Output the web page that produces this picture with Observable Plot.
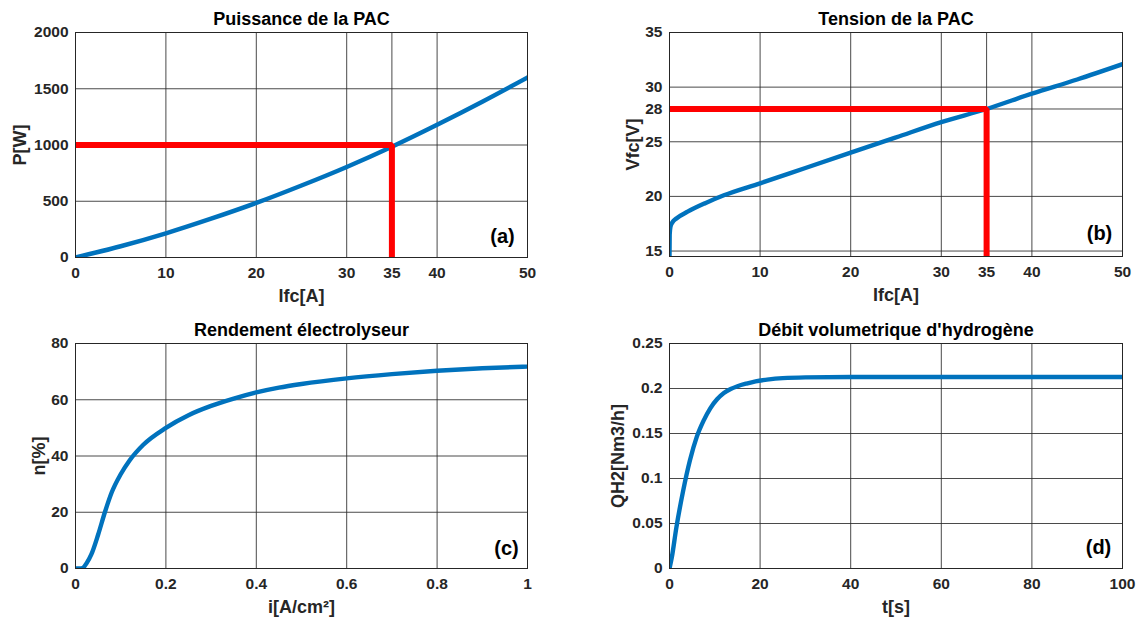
<!DOCTYPE html>
<html><head><meta charset="utf-8">
<script src="https://cdn.jsdelivr.net/npm/d3@7"></script>
<script src="https://cdn.jsdelivr.net/npm/@observablehq/plot@0.6"></script>
<style>
html,body{margin:0;padding:0;background:#fff}
#root{position:relative;width:1142px;height:621px;overflow:hidden}
#root svg{position:absolute}
</style></head><body><div id="root"></div>
<script>
// ---- Panel (a): Puissance de la PAC ----
const ifcA = [0, 5, 10, 15, 20, 25, 30, 35, 40, 45, 50];
const powerA = [0, 100, 215, 345, 485, 640, 805, 985, 1180, 1385, 1600];
const xTicksA = [0, 10, 20, 30, 35, 40, 50];
const yTicksA = [0, 500, 1000, 1500, 2000];
const refA = {x: 35, y: 1000};

// ---- Panel (b): Tension de la PAC ----
const ifcB = [0, 0.02, 0.1, 0.3, 0.8, 2, 4, 6, 10, 15, 20, 25, 30, 35, 40, 45, 50];
const voltB = [14.5, 16.5, 17.2, 17.6, 18.0, 18.6, 19.4, 20.1, 21.2, 22.6, 24.0, 25.4, 26.8, 28.0, 29.4, 30.7, 32.1];
const xTicksB = [0, 10, 20, 30, 35, 40, 50];
const yTicksB = [15, 20, 25, 28, 30, 35];
const refB = {x: 35, y: 28};

// ---- Panel (c): Rendement électrolyseur ----
const currC = [0, 0.01, 0.017, 0.025, 0.035, 0.05, 0.065, 0.08, 0.1, 0.12, 0.15, 0.2, 0.25, 0.3, 0.35, 0.4, 0.45, 0.5, 0.6, 0.7, 0.8, 0.9, 1.0];
const effC = [0, 0, 0.3, 2, 5, 12, 20, 27, 33.5, 38.5, 44, 50, 54.5, 57.8, 60.4, 62.6, 64.3, 65.6, 67.6, 69.1, 70.3, 71.2, 71.8];
const xTicksC = [0, 0.2, 0.4, 0.6, 0.8, 1];
const yTicksC = [0, 20, 40, 60, 80];

// ---- Panel (d): Débit volumetrique d'hydrogène ----
const timeD = [0, 0.5, 1.5, 3, 4.5, 6, 7.5, 9, 10.5, 12, 13.5, 15, 17, 19, 22, 25, 30, 40, 60, 80, 100];
const flowD = [0, 0.012, 0.045, 0.086, 0.12, 0.146, 0.164, 0.178, 0.188, 0.195, 0.1995, 0.2025, 0.2055, 0.208, 0.2102, 0.2115, 0.2124, 0.2128, 0.2128, 0.2128, 0.2128];
const xTicksD = [0, 20, 40, 60, 80, 100];
const yTicksD = [0, 0.05, 0.1, 0.15, 0.2, 0.25];

const BLUE = "#0072BD", RED = "#FF0000", INK = "#262626";
const FONT = "'Liberation Sans', Arial, Helvetica, sans-serif";

function panel(o) {
  const data = o.xs.map((x, i) => ({x, y: o.ys[i]}));
  const marks = [
    Plot.gridX({ticks: o.xTicks, stroke: "#2a2a2a", strokeOpacity: 0.85, strokeWidth: 1}),
    Plot.gridY({ticks: o.yTicks, stroke: "#2a2a2a", strokeOpacity: 0.85, strokeWidth: 1}),
    Plot.line(data, {x: "x", y: "y", stroke: BLUE, strokeWidth: 4.4, curve: "monotone-x", clip: true}),
  ];
  if (o.ref) {
    const r = [
      {x: o.xDomain[0], y: o.ref.y},
      {x: o.ref.x, y: o.ref.y},
      {x: o.ref.x, y: o.yDomain[0]}
    ];
    marks.push(Plot.line(r, {x: "x", y: "y", stroke: RED, strokeWidth: 6, strokeLinejoin: "miter", strokeLinecap: "butt", clip: true}));
  }
  marks.push(
    Plot.frame({stroke: INK, strokeWidth: 1}),
    Plot.axisX({ticks: o.xTicks, tickSize: 0, tickPadding: 9, tickFormat: d => String(d), label: null, fontSize: 15.5, fill: INK}),
    Plot.axisY({ticks: o.yTicks, tickSize: 0, tickPadding: 7, tickFormat: d => String(d), label: null, fontSize: 15.5, fill: INK}),
    Plot.text([o.title], {frameAnchor: "top", dy: -13, textAnchor: "middle", lineAnchor: "middle", fontSize: 18, fontWeight: "bold", fill: "#000"}),
    Plot.text([o.xLabel], {frameAnchor: "bottom", dy: 39, textAnchor: "middle", lineAnchor: "middle", fontSize: 18, fontWeight: "bold", fill: INK}),
    Plot.text([o.yLabel], {frameAnchor: "left", dx: -o.yLabelOff, rotate: -90, textAnchor: "middle", lineAnchor: "middle", fontSize: 18, fontWeight: "bold", fill: INK}),
    Plot.text([o.tag], {frameAnchor: "bottom-right", dx: o.tagDx, dy: o.tagDy, textAnchor: "middle", lineAnchor: "middle", fontSize: 20, fontWeight: "bold", fill: "#000"})
  );
  const svg = Plot.plot({
    width: o.w, height: o.h,
    marginLeft: o.ml, marginRight: o.mr, marginTop: o.mt, marginBottom: o.mb,
    x: {domain: o.xDomain},
    y: {domain: o.yDomain},
    style: {fontFamily: FONT, fontWeight: "bold", fontSize: "15px", background: "transparent", overflow: "visible"},
    marks
  });
  svg.style.left = o.left + "px";
  svg.style.top = o.top + "px";
  document.getElementById("root").appendChild(svg);
}

panel({left: 0, top: 0, w: 560, h: 310, ml: 75, mr: 33, mt: 32, mb: 53,
  xs: ifcA, ys: powerA, xDomain: [0, 50], yDomain: [0, 2000], xTicks: xTicksA, yTicks: yTicksA, ref: refA,
  title: "Puissance de la PAC", xLabel: "Ifc[A]", yLabel: "P[W]", yLabelOff: 55, tag: "(a)", tagDx: -25, tagDy: -21});

panel({left: 580, top: 0, w: 562, h: 310, ml: 89, mr: 20, mt: 32, mb: 54,
  xs: ifcB, ys: voltB, xDomain: [0, 50], yDomain: [14.5, 35], xTicks: xTicksB, yTicks: yTicksB, ref: refB,
  title: "Tension de la PAC", xLabel: "Ifc[A]", yLabel: "Vfc[V]", yLabelOff: 36, tag: "(b)", tagDx: -23, tagDy: -23});

panel({left: 0, top: 310, w: 560, h: 311, ml: 75, mr: 33, mt: 33, mb: 53,
  xs: currC, ys: effC, xDomain: [0, 1], yDomain: [0, 80], xTicks: xTicksC, yTicks: yTicksC,
  title: "Rendement électrolyseur", xLabel: "i[A/cm²]", yLabel: "n[%]", yLabelOff: 36, tag: "(c)", tagDx: -21, tagDy: -20});

panel({left: 580, top: 310, w: 562, h: 311, ml: 89, mr: 20, mt: 33, mb: 53,
  xs: timeD, ys: flowD, xDomain: [0, 100], yDomain: [0, 0.25], xTicks: xTicksD, yTicks: yTicksD,
  title: "Débit volumetrique d'hydrogène", xLabel: "t[s]", yLabel: "QH2[Nm3/h]", yLabelOff: 51, tag: "(d)", tagDx: -24, tagDy: -21});
</script>
</body></html>
